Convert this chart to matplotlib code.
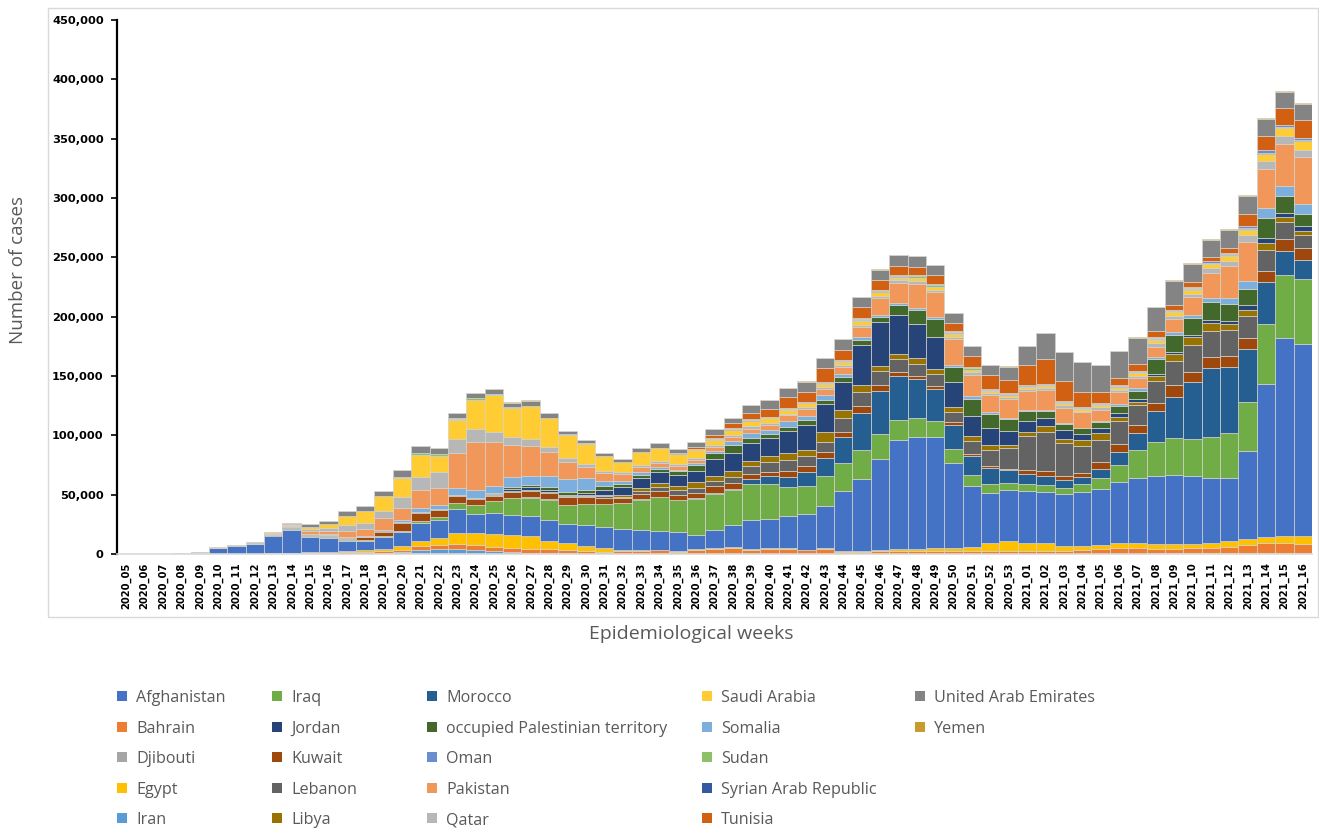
import matplotlib
matplotlib.use('Agg')
import matplotlib.pyplot as plt
import numpy as np
from matplotlib.patches import Patch, Rectangle
from matplotlib.ticker import FuncFormatter

# epidemiological weeks (categories)
weeks = [f'2020_{w:02d}' for w in range(5, 54)] + [f'2021_{w:02d}' for w in range(1, 17)]

# weekly cases, thousands, one list per country
iran = [0, 0, 0, 0, 0, 0, 0, 0, 0, 0,
        0, 0, 0.3, 0.3, 0.8, 1.7, 3.7, 4.2, 3.9, 3.7,
        2.5, 1.7, 1.1, 0.8, 0.5, 0.3, 0.3, 0.3, 0.3, 0.3,
        0.3, 0.3, 0.3, 0.3, 0.3, 0.3, 0.3, 0.3, 0.3, 0.4,
        0.4, 0.4, 0.4, 0.4, 0.4, 0.4, 0.4, 0.4, 0.4, 0.4,
        0.4, 0.4, 0.4, 0.4, 0.4, 0.4, 0.5, 0.5, 0.5, 0.5,
        0.6, 0.6, 0.8, 0.8, 0.8]
bahrain = [0, 0, 0, 0, 0.1, 0.2, 0.3, 0.3, 0.4, 0.3,
           0.5, 0.6, 1.1, 1.0, 1.4, 2.0, 2.8, 3.1, 4.2, 3.7,
           3.4, 3.7, 3.4, 3.1, 2.5, 2.0, 1.7, 2.0, 2.5, 2.8,
           1.6, 2.8, 3.9, 4.8, 3.4, 3.9, 3.9, 2.8, 3.9, 1.5,
           1.4, 2.0, 2.0, 2.0, 2.0, 2.0, 2.0, 2.0, 2.0, 2.0,
           2.0, 2.5, 2.8, 3.4, 4.8, 4.8, 3.9, 3.9, 4.2, 4.2,
           5.4, 6.8, 8.2, 8.2, 7.6]
egypt = [0, 0, 0, 0, 0, 0, 0, 0, 0.1, 0.5,
         0.8, 1.2, 1.4, 2.0, 2.3, 3.1, 4.5, 6.2, 9.6, 10.7,
         11.3, 10.4, 10.7, 7.0, 6.2, 4.5, 2.8, 1.4, 0.8, 0.5,
         0.4, 1.1, 0.8, 0.8, 0.6, 0.5, 0.5, 0.5, 0.5, 0.5,
         0.6, 0.8, 2.0, 2.0, 2.8, 2.8, 3.7, 6.5, 8.5, 7.0,
         6.5, 4.2, 3.4, 3.7, 4.2, 4.2, 3.7, 4.2, 3.9, 4.8,
         5.1, 5.6, 5.6, 6.5, 6.5]
afghanistan = [0.1, 0.2, 0.2, 0.4, 0.9, 5.0, 6.6, 8.0, 14.5, 19.5,
               13.3, 12.0, 8.2, 7.6, 9.9, 11.8, 15.2, 15.5, 20.3, 15.5,
               17.5, 16.9, 16.6, 17.5, 16.3, 17.5, 17.7, 17.5, 16.9, 16.1,
               16.1, 12.1, 15.5, 18.9, 24.2, 24.8, 27.6, 30.1, 35.5, 50.7,
               61.1, 76.6, 91.8, 94.6, 93.0, 71.8, 51.3, 42.8, 43.1, 43.7,
               43.7, 43.7, 45.6, 47.6, 51.3, 54.9, 57.7, 57.7, 57.2, 54.4,
               52.7, 74.1, 129.0, 166.2, 162.0]
iraq = [0, 0, 0, 0, 0, 0, 0, 0, 0.3, 0.6,
        0.6, 0.5, 0.5, 0.6, 0.5, 0.8, 1.7, 2.3, 5.1, 7.6,
        10.1, 14.1, 15.8, 17.5, 15.5, 17.7, 19.7, 21.4, 25.4, 28.2,
        26.8, 30.1, 30.1, 29.0, 30.7, 29.6, 24.5, 23.9, 25.9, 23.9,
        23.9, 21.1, 16.6, 15.5, 14.1, 11.3, 9.3, 7.6, 6.2, 5.6,
        5.4, 5.1, 6.5, 8.7, 14.1, 23.4, 28.2, 31.8, 31.5, 34.9,
        38.0, 41.4, 50.1, 53.0, 54.6]
morocco = [0, 0, 0, 0, 0, 0, 0, 0, 0, 0.6,
           0.6, 0.7, 0.8, 0.3, 0.2, 0.2, 0.2, 0.2, 0.2, 0.2,
           0.2, 0.2, 0.2, 0.2, 0.2, 0.2, 0.3, 0.3, 0.3, 0.3,
           0.3, 0.5, 0.8, 1.1, 3.7, 7.0, 8.5, 11.8, 14.6, 21.7,
           31.8, 36.6, 36.9, 33.0, 26.8, 20.6, 15.5, 13.5, 10.7, 9.0,
           7.9, 6.5, 6.2, 8.2, 11.3, 14.6, 26.2, 34.4, 47.3, 57.7,
           55.8, 43.9, 35.8, 20.8, 16.3]
kuwait = [0, 0, 0, 0, 0, 0, 0, 0, 0.2, 0.4,
          0.7, 1.1, 1.5, 2.5, 3.7, 6.2, 6.8, 5.6, 5.6, 5.1,
          4.2, 5.6, 5.4, 5.6, 6.5, 6.2, 4.8, 3.9, 4.2, 4.8,
          4.2, 4.5, 5.6, 5.1, 4.2, 3.4, 4.5, 4.5, 5.6, 4.5,
          5.6, 5.1, 3.4, 2.8, 2.3, 2.0, 2.0, 1.4, 1.1, 3.1,
          4.2, 3.4, 3.7, 5.6, 6.5, 6.5, 6.8, 9.9, 9.0, 9.3,
          9.0, 9.6, 9.0, 10.1, 9.9]
lebanon = [0, 0, 0, 0, 0, 0, 0, 0, 0.3, 0.3,
           0.3, 0.2, 0.2, 0.2, 0.3, 0.3, 0.3, 0.3, 0.3, 0.3,
           0.3, 0.4, 0.4, 0.4, 0.5, 0.5, 1.2, 1.6, 2.8, 3.7,
           4.5, 4.2, 4.2, 4.8, 7.0, 7.9, 9.0, 8.5, 8.5, 11.8,
           11.8, 11.3, 11.3, 9.9, 10.4, 8.5, 11.3, 13.5, 17.2, 28.7,
           33.0, 27.6, 22.5, 18.6, 19.7, 16.9, 19.2, 20.6, 22.8, 22.0,
           22.0, 18.6, 17.7, 14.1, 11.3]
libya = [0, 0, 0, 0, 0, 0, 0, 0, 0, 0,
         0, 0, 0, 0, 0, 0.1, 0.1, 0.1, 0.1, 0.1,
         0.1, 0.2, 0.2, 0.3, 0.3, 0.4, 0.8, 1.2, 2.3, 2.8,
         2.8, 4.8, 4.2, 5.1, 4.2, 4.8, 6.5, 5.6, 7.9, 6.2,
         5.9, 4.8, 4.2, 4.8, 4.2, 4.2, 3.7, 3.9, 2.5, 3.4,
         4.5, 3.9, 4.8, 5.6, 2.8, 2.5, 3.4, 5.6, 6.2, 6.8,
         5.1, 5.4, 5.6, 3.9, 3.4]
jordan = [0, 0, 0, 0, 0, 0, 0, 0, 0, 0.2,
          0.1, 0.1, 0.2, 0.2, 1.0, 0.8, 0.2, 0.2, 0.2, 0.3,
          1.1, 1.4, 2.3, 1.4, 1.1, 2.0, 5.0, 6.5, 8.5, 9.9,
          9.6, 9.9, 14.6, 15.5, 15.5, 15.8, 18.0, 21.1, 23.4, 23.9,
          33.5, 36.6, 32.4, 29.0, 26.8, 21.1, 17.5, 14.9, 12.1, 9.3,
          6.8, 7.3, 5.1, 4.8, 3.4, 2.8, 2.3, 2.0, 2.3, 2.8,
          2.8, 3.7, 4.2, 3.7, 3.7]
opt = [0, 0, 0, 0, 0, 0, 0, 0, 0, 0,
       0, 0, 0, 0, 0.1, 0.1, 0.2, 0.2, 0.3, 0.3,
       0.3, 2.0, 2.0, 2.3, 2.3, 2.8, 2.8, 2.8, 2.8, 2.3,
       3.1, 4.8, 5.1, 6.2, 3.7, 3.4, 3.7, 3.4, 3.4, 4.2,
       4.2, 4.2, 8.5, 11.8, 14.9, 13.0, 14.1, 11.3, 9.9, 8.5,
       6.5, 4.8, 4.8, 4.8, 6.5, 6.5, 12.1, 14.1, 14.1, 14.9,
       14.1, 13.5, 17.5, 14.1, 10.4]
somalia = [0, 0, 0, 0, 0, 0, 0, 0, 0, 0,
           0.3, 0.5, 0.5, 0.5, 0.3, 1.4, 2.8, 3.4, 5.6, 6.2,
           6.5, 8.5, 7.9, 9.3, 11.3, 9.9, 4.2, 2.8, 2.0, 1.4,
           1.4, 1.4, 2.0, 3.7, 4.8, 3.4, 5.1, 4.2, 4.2, 2.8,
           2.8, 2.0, 2.3, 1.4, 2.0, 1.7, 2.0, 2.0, 0.8, 0.8,
           0.8, 0.8, 0.8, 0.8, 1.4, 2.0, 2.0, 2.3, 2.5, 3.4,
           4.8, 6.8, 7.9, 9.0, 8.7]
pakistan = [0, 0, 0, 0, 0.1, 0.2, 0.3, 0.5, 1.2, 1.5,
            2.5, 2.8, 5.0, 6.0, 9.9, 10.1, 15.5, 14.6, 29.6, 40.8,
            37.2, 26.8, 25.4, 20.3, 14.6, 9.3, 7.0, 5.6, 4.8, 3.9,
            3.4, 2.8, 2.8, 3.7, 3.4, 3.7, 4.8, 5.6, 5.6, 5.6,
            8.7, 14.1, 16.9, 20.6, 21.1, 21.4, 18.3, 14.1, 16.1, 16.1,
            16.9, 13.2, 12.7, 9.3, 9.9, 8.7, 8.5, 10.7, 14.9, 21.4,
            27.6, 33.2, 33.2, 35.2, 39.2]
qatar = [0, 0, 0, 0, 0, 0, 0.1, 0.3, 0.5, 0.6,
         1.2, 1.8, 4.5, 5.0, 6.2, 9.6, 10.7, 13.0, 12.1, 10.7,
         8.5, 6.5, 5.6, 4.2, 3.1, 2.8, 1.5, 1.5, 1.7, 1.7,
         1.4, 1.4, 1.7, 1.1, 2.3, 2.0, 1.4, 1.4, 1.4, 1.4,
         1.1, 1.7, 2.0, 2.2, 1.9, 2.0, 2.0, 1.6, 1.5, 1.6,
         1.5, 1.8, 1.5, 2.0, 2.0, 2.0, 3.0, 3.0, 3.0, 3.5,
         4.0, 5.6, 6.2, 6.5, 5.9]
saudi = [0, 0, 0, 0, 0, 0.1, 0.2, 0.5, 0.8, 1.1,
         2.2, 3.8, 8.0, 10.4, 12.1, 16.0, 18.9, 14.1, 15.5, 24.5,
         31.0, 24.8, 27.6, 24.5, 19.4, 16.9, 12.6, 8.4, 10.4, 10.4,
         8.5, 7.3, 4.8, 4.5, 4.2, 3.7, 3.4, 3.4, 2.8, 2.8,
         3.7, 3.4, 2.0, 2.5, 2.3, 2.2, 2.2, 1.8, 1.7, 1.8,
         1.7, 2.0, 1.7, 2.2, 2.0, 2.2, 3.0, 3.0, 3.0, 3.6,
         4.0, 4.5, 6.2, 7.0, 7.6]
sudan = [0, 0, 0, 0, 0, 0, 0, 0, 0, 0,
         0, 0, 0, 0, 0.1, 0.2, 1.7, 1.4, 1.4, 1.4,
         0.8, 0.3, 0.3, 0.3, 0.2, 0.2, 0.2, 0.2, 0.2, 0.2,
         0.2, 0.2, 0.2, 0.2, 0.2, 0.2, 0.2, 0.2, 0.3, 0.4,
         0.4, 0.4, 1.0, 1.5, 1.4, 1.4, 1.3, 0.8, 0.6, 0.7,
         0.6, 0.8, 0.6, 0.8, 0.6, 0.7, 0.8, 0.8, 0.8, 1.0,
         1.0, 0.8, 0.5, 0.5, 0.5]
syria = [0, 0, 0, 0, 0, 0, 0, 0, 0, 0,
         0, 0, 0, 0, 0, 0, 0, 0, 0, 0,
         0, 0, 0, 0, 0.1, 0.1, 0.1, 0.1, 0.1, 0.1,
         0.2, 0.2, 0.2, 0.2, 0.3, 0.3, 0.3, 0.3, 0.3, 0.3,
         0.3, 0.3, 0.3, 0.3, 0.3, 0.3, 0.3, 0.3, 0.3, 0.3,
         0.3, 0.3, 0.3, 0.3, 0.3, 0.3, 0.3, 0.4, 0.4, 0.4,
         0.4, 0.4, 0.3, 0.3, 0.3]
oman = [0, 0, 0, 0, 0, 0, 0, 0, 0, 0,
        0, 0, 0, 0, 0, 0, 0, 0, 0.1, 0.1,
        0.1, 0.1, 0.1, 0.1, 0.1, 0.1, 0.1, 0.1, 0.1, 0.1,
        0.2, 0.2, 0.2, 0.2, 0.2, 0.2, 0.3, 0.3, 0.5, 1.0,
        1.0, 1.0, 0.8, 0.5, 0.5, 0.6, 0.6, 0.5, 0.5, 0.5,
        0.5, 0.6, 0.5, 0.6, 0.6, 0.7, 0.8, 0.8, 0.8, 0.9,
        0.9, 2.0, 2.8, 1.4, 2.0]
djibouti = [0, 0, 0, 0, 0, 0, 0, 0, 0, 0,
            0, 0, 0, 0, 0.1, 0.1, 0.1, 0.1, 0.1, 0.1,
            0.1, 0.1, 0.1, 0.1, 0.1, 0.1, 0.1, 0.1, 0.1, 0.1,
            0.1, 0.3, 1.1, 1.1, 0.5, 0.5, 0.5, 0.5, 0.5, 0.3,
            0.3, 0.3, 0.3, 0.3, 0.3, 0.3, 0.3, 0.3, 0.3, 0.3,
            0.2, 0.2, 0.2, 0.2, 0.2, 0.2, 0.2, 0.2, 0.2, 0.2,
            0.2, 0.2, 0.2, 0.2, 0.2]
tunisia = [0, 0, 0, 0, 0, 0, 0, 0, 0, 0,
           0, 0, 0, 0, 0, 0, 0, 0, 0, 0,
           0, 0, 0, 0, 0, 0, 0, 0, 0, 0.1,
           0.2, 1.1, 2.3, 3.7, 5.1, 7.0, 9.3, 7.9, 11.8, 7.9,
           9.3, 8.5, 7.6, 7.0, 7.6, 7.0, 8.7, 11.3, 11.5, 16.1,
           21.1, 16.9, 12.1, 9.0, 6.2, 5.4, 5.1, 4.2, 4.2, 3.7,
           4.2, 9.6, 11.3, 14.1, 14.9]
uae = [0.1, 0.1, 0.1, 0.1, 0.2, 0.2, 0.3, 0.3, 0.4, 0.7,
       2.3, 2.5, 3.7, 3.5, 4.2, 6.2, 5.6, 4.8, 4.8, 4.2,
       3.7, 3.9, 4.2, 3.7, 2.8, 2.3, 2.3, 2.0, 2.8, 3.7,
       2.8, 4.2, 5.1, 4.8, 6.8, 7.0, 7.9, 9.0, 8.5, 9.3,
       9.0, 8.5, 9.3, 8.7, 8.7, 8.5, 9.0, 8.5, 11.0, 16.3,
       22.0, 24.5, 25.9, 22.8, 22.5, 22.5, 20.3, 20.3, 15.8, 14.6,
       15.5, 15.5, 14.1, 13.5, 13.5]
yemen = [0, 0, 0, 0, 0, 0, 0, 0, 0, 0,
         0, 0, 0, 0, 0, 0, 0, 0.1, 0.1, 0.2,
         0.3, 0.3, 0.3, 0.2, 0.2, 0.2, 0.1, 0.1, 0.1, 0.1,
         0.1, 0.1, 0.1, 0.1, 0.1, 0.1, 0.1, 0.1, 0.1, 0.1,
         0.1, 0.1, 0.1, 0.1, 0.1, 0.1, 0.1, 0.1, 0.1, 0.1,
         0.1, 0.1, 0.1, 0.1, 0.2, 0.3, 0.5, 0.6, 0.6, 0.6,
         0.6, 0.8, 0.8, 0.8, 0.8]

# stacking order bottom -> top, as drawn in the chart
stack = [
    ('Iran', iran, '#5B9BD5'),
    ('Bahrain', bahrain, '#ED7D31'),
    ('Egypt', egypt, '#FFC000'),
    ('Afghanistan', afghanistan, '#4472C4'),
    ('Iraq', iraq, '#70AD47'),
    ('Morocco', morocco, '#255E91'),
    ('Kuwait', kuwait, '#9E480E'),
    ('Lebanon', lebanon, '#636363'),
    ('Libya', libya, '#997300'),
    ('Jordan', jordan, '#264478'),
    ('occupied Palestinian territory', opt, '#43682B'),
    ('Somalia', somalia, '#7CAFDD'),
    ('Pakistan', pakistan, '#F1975A'),
    ('Qatar', qatar, '#B7B7B7'),
    ('Saudi Arabia', saudi, '#FFCD33'),
    ('Sudan', sudan, '#8CC168'),
    ('Syrian Arab Republic', syria, '#335AA1'),
    ('Oman', oman, '#698ED0'),
    ('Djibouti', djibouti, '#A5A5A5'),
    ('Tunisia', tunisia, '#D26012'),
    ('United Arab Emirates', uae, '#848484'),
    ('Yemen', yemen, '#C99A2E'),
]

# legend columns as laid out under the chart
legend_cols = [
    ['Afghanistan', 'Bahrain', 'Djibouti', 'Egypt', 'Iran'],
    ['Iraq', 'Jordan', 'Kuwait', 'Lebanon', 'Libya'],
    ['Morocco', 'occupied Palestinian territory', 'Oman', 'Pakistan', 'Qatar'],
    ['Saudi Arabia', 'Somalia', 'Sudan', 'Syrian Arab Republic', 'Tunisia'],
    ['United Arab Emirates', 'Yemen'],
]

W, H = 1319, 830
fig = plt.figure(figsize=(W / 100, H / 100), dpi=100)
fig.patches.append(Rectangle((48 / W, 1 - 617 / H), (1318 - 48) / W, (617 - 8) / H,
                             transform=fig.transFigure, fill=False,
                             edgecolor='#d9d9d9', linewidth=1.0))

ax = fig.add_axes([117 / W, 1 - 554 / H, (1312 - 117) / W, (554 - 20) / H])

x = np.arange(len(weeks))
bottom = np.zeros(len(weeks))
colors = {}
for name, vals, col in stack:
    v = np.array(vals) * 1000
    ax.bar(x, v, width=1.0, bottom=bottom, color=col, edgecolor='#d4d2cc',
           linewidth=0.5, label=name)
    bottom += v
    colors[name] = col

ax.set_xlim(-0.5, len(weeks) - 0.5)
ax.set_ylim(0, 450000)
ax.set_yticks(np.arange(0, 450001, 50000))
ax.yaxis.set_major_formatter(FuncFormatter(lambda v, p: f'{int(v):,}'))
ax.tick_params(axis='y', length=4.5, width=1.2, pad=5, labelsize=8.2, direction='out')
for t in ax.get_yticklabels():
    t.set_fontweight('bold')

ax.set_xticks(x)
ax.set_xticklabels(weeks, rotation=90, fontsize=7.2, fontweight='bold',
                   family=['Liberation Sans Narrow', 'DejaVu Sans'])
ax.tick_params(axis='x', length=0, pad=6)

for s in ['top', 'right']:
    ax.spines[s].set_visible(False)
ax.spines['left'].set_linewidth(1.6)
ax.spines['bottom'].set_color('#d9d9d9')
ax.spines['bottom'].set_linewidth(1.2)

lab_font = dict(family=['Open Sans', 'DejaVu Sans'], color='#595959')
fig.text(18 / W, 1 - 270 / H, 'Number of cases', rotation=90, ha='center', va='center',
         fontsize=13.5, **lab_font)
fig.text(691 / W, 1 - 634 / H, 'Epidemiological weeks', ha='center', va='center',
         fontsize=14, **lab_font)

# legend, one block per column
col_x = [117, 272, 427, 702, 915]
for cx, names in zip(col_x, legend_cols):
    handles = [Patch(facecolor=colors[n], edgecolor='none') for n in names]
    fig.legend(handles, names, loc='upper left', bbox_to_anchor=(cx / W, 1 - 690 / H),
               frameon=False, handlelength=0.6, handleheight=0.6,
               handletextpad=0.6, labelspacing=0.9, borderaxespad=0, borderpad=0,
               prop={'family': ['Open Sans', 'DejaVu Sans'], 'size': 11.6},
               labelcolor='#595959')

fig.savefig('out.png', dpi=100)
